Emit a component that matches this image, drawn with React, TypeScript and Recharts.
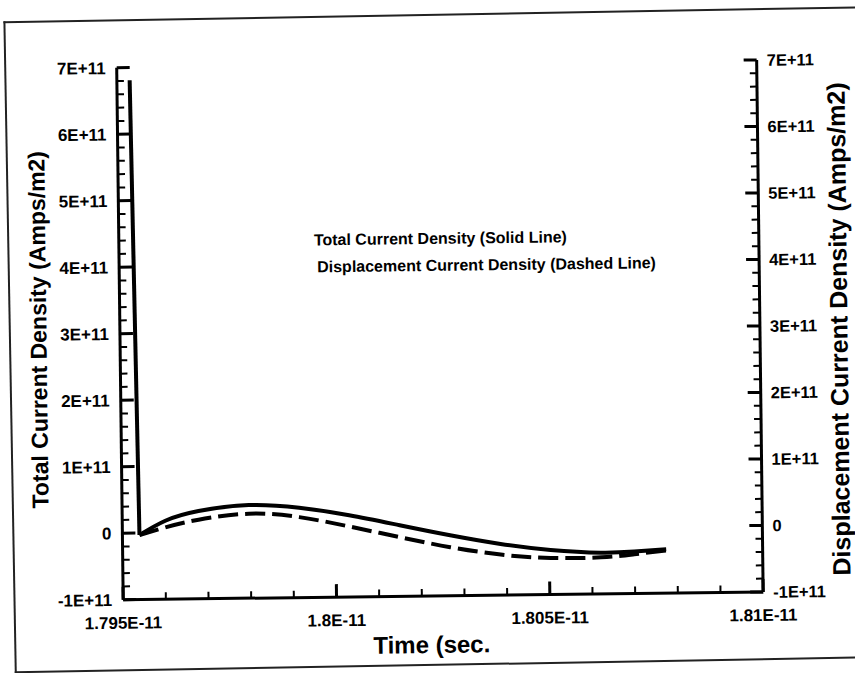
import React from 'react';
import { LineChart, Line, XAxis, YAxis } from 'recharts';

// Time (s)
const times = [
  1.7953e-11, 1.7954e-11, 1.79601e-11, 1.79679e-11, 1.79797e-11, 1.79915e-11, 1.80032e-11,
  1.8015e-11, 1.80268e-11, 1.80386e-11, 1.80503e-11, 1.80621e-11, 1.80699e-11, 1.80774e-11,
];
// Total current density (A/m2) - solid line
const totalCurrent = [
  6.81e11, -0.03e11, 0.18e11, 0.32e11, 0.4e11, 0.35e11, 0.23e11,
  0.07e11, -0.09e11, -0.23e11, -0.33e11, -0.38e11, -0.37e11, -0.34e11,
];
// Displacement current density (A/m2) - dashed line
const displacementCurrent = [
  null, -0.03e11, 0.08e11, 0.19e11, 0.27e11, 0.21e11, 0.06e11,
  -0.11e11, -0.27e11, -0.39e11, -0.45e11, -0.45e11, -0.41e11, -0.36e11,
];

const xMajorTicks = [1.795e-11, 1.8e-11, 1.805e-11, 1.81e-11];
const xTickLabels = ['1.795E-11', '1.8E-11', '1.805E-11', '1.81E-11'];
const yMajorTicks = [-1e11, 0, 1e11, 2e11, 3e11, 4e11, 5e11, 6e11, 7e11];
const yTickLabels = ['-1E+11', '0', '1E+11', '2E+11', '3E+11', '4E+11', '5E+11', '6E+11', '7E+11'];

const withMinors = (majors: number[], parts: number) => {
  const out: number[] = [];
  for (let i = 0; i < majors.length - 1; i++) {
    const a = majors[i];
    const b = majors[i + 1];
    for (let k = 0; k < parts; k++) out.push(a + ((b - a) * k) / parts);
  }
  out.push(majors[majors.length - 1]);
  return out;
};

const xTicks = withMinors(xMajorTicks, 5);
const yTicks = withMinors(yMajorTicks, 5);

// the initial spike (first two samples) is drawn straight, the rest as a smooth curve
const data = times.map((t, i) => ({
  t,
  spike: i <= 1 ? totalCurrent[i] : null,
  total: i >= 1 ? totalCurrent[i] : null,
  displacement: displacementCurrent[i],
}));

const FONT = '"Liberation Sans", Arial, Helvetica, sans-serif';

const findMajor = (arr: number[], v: number, tol: number) =>
  arr.findIndex((m) => Math.abs(m - v) < tol);

const XTick = (props: any) => {
  const { x, y, payload } = props;
  const idx = findMajor(xMajorTicks, payload.value, 1e-16);
  const major = idx >= 0;
  return (
    <g>
      <line x1={x} x2={x} y1={y} y2={y - (major ? 13 : 7)} stroke="#000" strokeWidth={major ? 3 : 2} />
      {major && (
        <text x={x} y={y + 29} textAnchor="middle" fontFamily={FONT} fontWeight="bold" fontSize={17} fill="#000">
          {xTickLabels[idx]}
        </text>
      )}
    </g>
  );
};

const LeftTick = (props: any) => {
  const { x, y, payload } = props;
  const idx = findMajor(yMajorTicks, payload.value, 1e6);
  const major = idx >= 0;
  return (
    <g>
      <line x1={x} x2={x + (major ? 13 : 7)} y1={y} y2={y} stroke="#000" strokeWidth={major ? 3 : 2} />
      {major && (
        <text x={x - 11} y={y} dy="0.36em" textAnchor="end" fontFamily={FONT} fontWeight="bold" fontSize={17} fill="#000">
          {yTickLabels[idx]}
        </text>
      )}
    </g>
  );
};

const RightTick = (props: any) => {
  const { x, y, payload } = props;
  const idx = findMajor(yMajorTicks, payload.value, 1e6);
  const major = idx >= 0;
  return (
    <g>
      <line x1={x} x2={x - (major ? 13 : 7)} y1={y} y2={y} stroke="#000" strokeWidth={major ? 3 : 2} />
      {major && (
        <text x={x + 10} y={y} dy="0.36em" textAnchor="start" fontFamily={FONT} fontWeight="bold" fontSize={16.5} fill="#000">
          {yTickLabels[idx]}
        </text>
      )}
    </g>
  );
};

const textStyle: React.CSSProperties = {
  position: 'absolute',
  fontFamily: FONT,
  fontWeight: 'bold',
  color: '#000',
  whiteSpace: 'nowrap',
  lineHeight: 1,
};

export default function App() {
  return (
    <div
      style={{
        position: 'absolute',
        left: 0,
        top: 0,
        width: 855,
        height: 673,
        overflow: 'hidden',
        background: '#fff',
      }}
    >
      <div
        style={{
          position: 'absolute',
          left: 9,
          top: 14,
          width: 870,
          height: 648,
          borderLeft: '2px solid #222',
          borderTop: '2px solid #222',
          borderBottom: '2px solid #222',
          transform: 'rotate(-1deg)',
          transformOrigin: '418px 324px',
        }}
      />
      <div
        style={{
          position: 'absolute',
          left: 0,
          top: 0,
          width: 855,
          height: 673,
          transform: 'rotate(-0.7deg)',
          transformOrigin: '427px 336px',
        }}
      >
        <div style={{ position: 'absolute', left: 0, top: 0 }}>
          <LineChart
            width={855}
            height={673}
            data={data}
            margin={{ top: 64, right: 15, bottom: 27, left: 20 }}
          >
            <XAxis
              dataKey="t"
              type="number"
              domain={[1.795e-11, 1.81e-11]}
              ticks={xTicks}
              interval={0}
              allowDataOverflow
              height={50}
              tickSize={0}
              tickMargin={0}
              tickLine={false}
              axisLine={{ stroke: '#000', strokeWidth: 3 }}
              tick={<XTick />}
            />
            <YAxis
              yAxisId="left"
              orientation="left"
              type="number"
              domain={[-1e11, 7e11]}
              ticks={yTicks}
              interval={0}
              allowDataOverflow
              width={100}
              tickSize={0}
              tickMargin={0}
              tickLine={false}
              axisLine={{ stroke: '#000', strokeWidth: 3 }}
              tick={<LeftTick />}
            />
            <YAxis
              yAxisId="right"
              orientation="right"
              type="number"
              domain={[-1e11, 7e11]}
              ticks={yTicks}
              interval={0}
              allowDataOverflow
              width={80}
              tickSize={0}
              tickMargin={0}
              tickLine={false}
              axisLine={{ stroke: '#000', strokeWidth: 3 }}
              tick={<RightTick />}
            />
            <Line
              yAxisId="left"
              type="linear"
              dataKey="spike"
              stroke="#000"
              strokeWidth={4}
              dot={false}
              isAnimationActive={false}
            />
            <Line
              yAxisId="left"
              type="natural"
              dataKey="total"
              stroke="#000"
              strokeWidth={4}
              dot={false}
              isAnimationActive={false}
            />
            <Line
              yAxisId="right"
              type="natural"
              dataKey="displacement"
              stroke="#000"
              strokeWidth={4}
              strokeDasharray="20 7"
              dot={false}
              isAnimationActive={false}
            />
          </LineChart>
        </div>
        <div style={{ ...textStyle, fontSize: 16, left: 315, top: 231 }}>Total Current Density (Solid Line)</div>
        <div style={{ ...textStyle, fontSize: 16, left: 318, top: 258 }}>Displacement Current Density (Dashed Line)</div>
        <div style={{ ...textStyle, fontSize: 24, left: 428, top: 645, transform: 'translate(-50%, -50%)' }}>Time (sec.</div>
        <div style={{ ...textStyle, fontSize: 23, left: 39, top: 325, transform: 'translate(-50%, -50%) rotate(-90deg)' }}>
          Total Current Density (Amps/m2)
        </div>
        <div style={{ ...textStyle, fontSize: 25, left: 839, top: 334, transform: 'translate(-50%, -50%) rotate(-90deg)' }}>
          Displacement Current Density (Amps/m2)
        </div>
      </div>
    </div>
  );
}
